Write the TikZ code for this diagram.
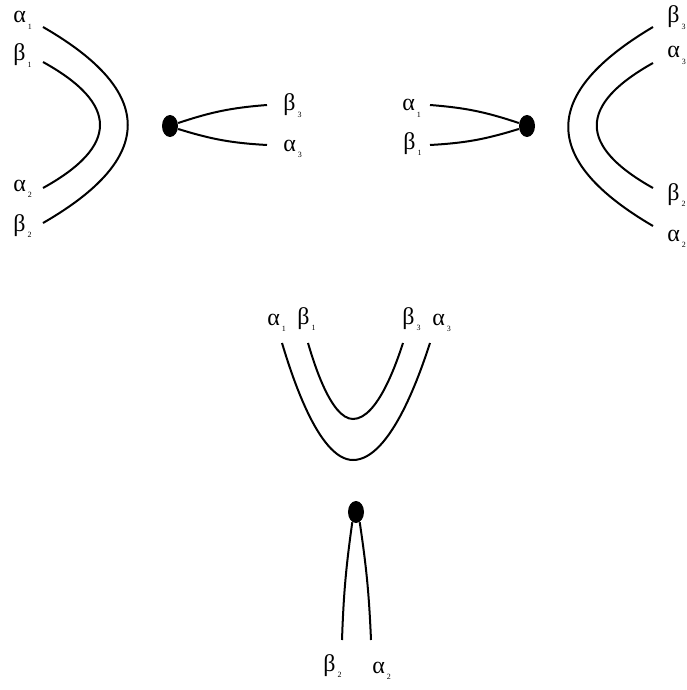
\documentclass[tikz,border=0pt]{standalone}
\usepackage{fontspec}
\setmainfont{Liberation Serif}
\usepackage{xcolor}
\usetikzlibrary{shapes.geometric, positioning}
\definecolor{inkblack}{HTML}{000000}
\newcommand{\lbl}[2]{#1\kern1pt\raisebox{-3.4pt}{\fontsize{4}{4}\selectfont #2}}

\begin{document}
\begin{tikzpicture}[x=0.5pt, y=-0.5pt,
    strand/.style={inkblack, line width=1pt},
    vertexdot/.style={ellipse, fill=inkblack, inner sep=0pt, minimum width=8pt, minimum height=11pt},
    greek/.style={anchor=base west, inner sep=0pt, font=\fontsize{12}{13}\selectfont}]

    % =================================================================
    % LAYER 0: THE CANVAS
    % =================================================================
    \useasboundingbox (0,0) rectangle (686,690);

    % =================================================================
    % LAYER 1: LEFT PAIR OF ARCS
    % =================================================================
    \coordinate (la1) at (43,27);
    \coordinate (lb1) at (43,62);
    \coordinate (la2) at (43,188);
    \coordinate (lb2) at (43,223);
    \node[greek] (tla1) at (13,23)  {\lbl{α}{1}};
    \node[greek] (tlb1) at (13,61)  {\lbl{β}{1}};
    \node[greek] (tla2) at (13,191) {\lbl{α}{2}};
    \node[greek] (tlb2) at (13,231) {\lbl{β}{2}};
    \draw[strand] (la1) .. controls (156,92) and (156,158) .. (lb2);
    \draw[strand] (lb1) .. controls (119,104) and (119,146) .. (la2);

    % =================================================================
    % LAYER 2: LEFT VERTEX
    % =================================================================
    \node[vertexdot] (ldot) at (170,126) {};
    \coordinate (lb3) at (267,105);
    \coordinate (la3) at (267,145);
    \node[greek] (tlb3) at (283,111) {\lbl{β}{3}};
    \node[greek] (tla3) at (283,151) {\lbl{α}{3}};
    \draw[strand] (ldot.20) to[bend left=7] (lb3);
    \draw[strand] (ldot.-20) to[bend right=7] (la3);

    % =================================================================
    % LAYER 3: RIGHT VERTEX
    % =================================================================
    \node[vertexdot] (rdot) at (527,126) {};
    \coordinate (ra1) at (430,105);
    \coordinate (rb1) at (430,145);
    \node[greek] (tra1) at (402,111) {\lbl{α}{1}};
    \node[greek] (trb1) at (403,149) {\lbl{β}{1}};
    \draw[strand] (ra1) to[bend left=7] (rdot.160);
    \draw[strand] (rb1) to[bend right=7] (rdot.-160);

    % =================================================================
    % LAYER 4: RIGHT PAIR OF ARCS
    % =================================================================
    \coordinate (rb3) at (653,27);
    \coordinate (ra3) at (653,63);
    \coordinate (rb2) at (653,188);
    \coordinate (ra2) at (653,226);
    \node[greek] (trb3) at (667,23)  {\lbl{β}{3}};
    \node[greek] (tra3) at (667,58)  {\lbl{α}{3}};
    \node[greek] (trb2) at (667,200) {\lbl{β}{2}};
    \node[greek] (tra2) at (667,241) {\lbl{α}{2}};
    \draw[strand] (rb3) .. controls (540,94) and (540,160) .. (ra2);
    \draw[strand] (ra3) .. controls (578,105) and (578,146) .. (rb2);

    % =================================================================
    % LAYER 5: BOTTOM CUP
    % =================================================================
    \coordinate (ba1) at (282,343);
    \coordinate (bb1) at (308,343);
    \coordinate (bb3) at (403,343);
    \coordinate (ba3) at (430,343);
    \node[greek] (tba1) at (267,325) {\lbl{α}{1}};
    \node[greek] (tbb1) at (297,324) {\lbl{β}{1}};
    \node[greek] (tbb3) at (402,324) {\lbl{β}{3}};
    \node[greek] (tba3) at (432,325) {\lbl{α}{3}};
    \draw[strand] (ba1) parabola bend (353,460) (ba3);
    \draw[strand] (bb1) parabola bend (353,419) (bb3);

    % =================================================================
    % LAYER 6: BOTTOM VERTEX
    % =================================================================
    \node[vertexdot] (bdot) at (356,512) {};
    \coordinate (bb2) at (342,640);
    \coordinate (ba2) at (371,640);
    \node[greek] (tbb2) at (323,671) {\lbl{β}{2}};
    \node[greek] (tba2) at (372,673) {\lbl{α}{2}};
    \draw[strand] (bdot.-110) to[bend right=3] (bb2);
    \draw[strand] (bdot.-70) to[bend left=3] (ba2);
\end{tikzpicture}
\end{document}
